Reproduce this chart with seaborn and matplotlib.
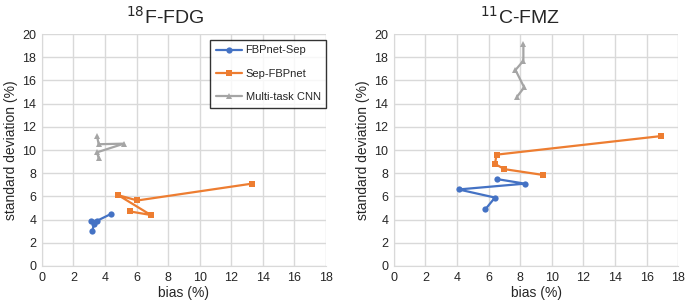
import pandas as pd
import seaborn as sns
import matplotlib.pyplot as plt

# 数据
methods = ['FBPnet-Sep', 'Sep-FBPnet', 'Multi-task CNN']

fdg_fbpnet_sep_bias = [4.4, 3.5, 3.1, 3.3, 3.2]
fdg_fbpnet_sep_sd = [4.5, 3.9, 3.9, 3.6, 3.0]
fdg_sep_fbpnet_bias = [13.3, 6.05, 4.85, 6.9, 5.6]
fdg_sep_fbpnet_sd = [7.1, 5.65, 6.1, 4.4, 4.7]
fdg_multitask_bias = [3.5, 3.6, 5.2, 3.5, 3.6]
fdg_multitask_sd = [11.2, 10.5, 10.55, 9.8, 9.3]

fmz_fbpnet_sep_bias = [6.5, 8.3, 4.1, 6.4, 5.8]
fmz_fbpnet_sep_sd = [7.5, 7.1, 6.6, 5.9, 4.9]
fmz_sep_fbpnet_bias = [16.9, 6.5, 6.4, 7.0, 9.45]
fmz_sep_fbpnet_sd = [11.2, 9.6, 8.8, 8.35, 7.85]
fmz_multitask_bias = [7.8, 8.25, 7.7, 8.2, 8.2]
fmz_multitask_sd = [14.6, 15.4, 16.9, 17.7, 19.1]

x_ticks = list(range(0, 19, 2))
y_ticks = list(range(0, 21, 2))


def make_df(series):
    rows = []
    for name, (bx, sd) in zip(methods, series):
        for i, (b, s) in enumerate(zip(bx, sd)):
            rows.append({'method': name, 'order': i, 'bias': b, 'sd': s})
    return pd.DataFrame(rows)


df_fdg = make_df([(fdg_fbpnet_sep_bias, fdg_fbpnet_sep_sd),
                  (fdg_sep_fbpnet_bias, fdg_sep_fbpnet_sd),
                  (fdg_multitask_bias, fdg_multitask_sd)])
df_fmz = make_df([(fmz_fbpnet_sep_bias, fmz_fbpnet_sep_sd),
                  (fmz_sep_fbpnet_bias, fmz_sep_fbpnet_sd),
                  (fmz_multitask_bias, fmz_multitask_sd)])

sns.set_style('white')
plt.rcParams['font.family'] = ['Liberation Sans', 'DejaVu Sans']

palette = {'FBPnet-Sep': '#4472c4', 'Sep-FBPnet': '#ed7d31', 'Multi-task CNN': '#a5a5a5'}
markers = {'FBPnet-Sep': 'o', 'Sep-FBPnet': 's', 'Multi-task CNN': '^'}

fig = plt.figure(figsize=(6.85, 3.04), dpi=100)
ax1 = fig.add_axes([0.061, 0.125, 0.415, 0.763])
ax2 = fig.add_axes([0.575, 0.125, 0.415, 0.763])

for ax, df in [(ax1, df_fdg), (ax2, df_fmz)]:
    sns.lineplot(data=df, x='bias', y='sd', hue='method', style='method',
                 units='method', estimator=None, sort=False,
                 palette=palette, markers=markers, dashes=False,
                 linewidth=1.6, markersize=4.5, markeredgewidth=0,
                 ax=ax, legend=(ax is ax1))
    ax.set_xlim(0, 18)
    ax.set_ylim(0, 20)
    ax.set_xticks(x_ticks)
    ax.set_yticks(y_ticks)
    ax.grid(True, color='#d9d9d9', linewidth=1)
    for side in ['top', 'right']:
        ax.spines[side].set_visible(False)
    for side in ['left', 'bottom']:
        ax.spines[side].set_color('#d9d9d9')
    ax.tick_params(labelsize=9, length=0, pad=4)
    ax.set_xlabel('bias (%)', fontsize=10, labelpad=2)
    ax.set_ylabel('standard deviation (%)', fontsize=10, labelpad=3)

leg = ax1.legend(loc='upper right', bbox_to_anchor=(1.0, 0.975), fontsize=8,
                 frameon=True, fancybox=False, edgecolor='black',
                 handlelength=2.4, handletextpad=0.3, labelspacing=1.2,
                 borderpad=0.5, borderaxespad=0)
leg.get_frame().set_linewidth(1)

fig.text(0.241, 0.945, r'$^{18}$F-FDG', fontsize=14, ha='center', va='center')
fig.text(0.759, 0.945, r'$^{11}$C-FMZ', fontsize=14, ha='center', va='center')

fig.savefig('out.png', dpi=100)
